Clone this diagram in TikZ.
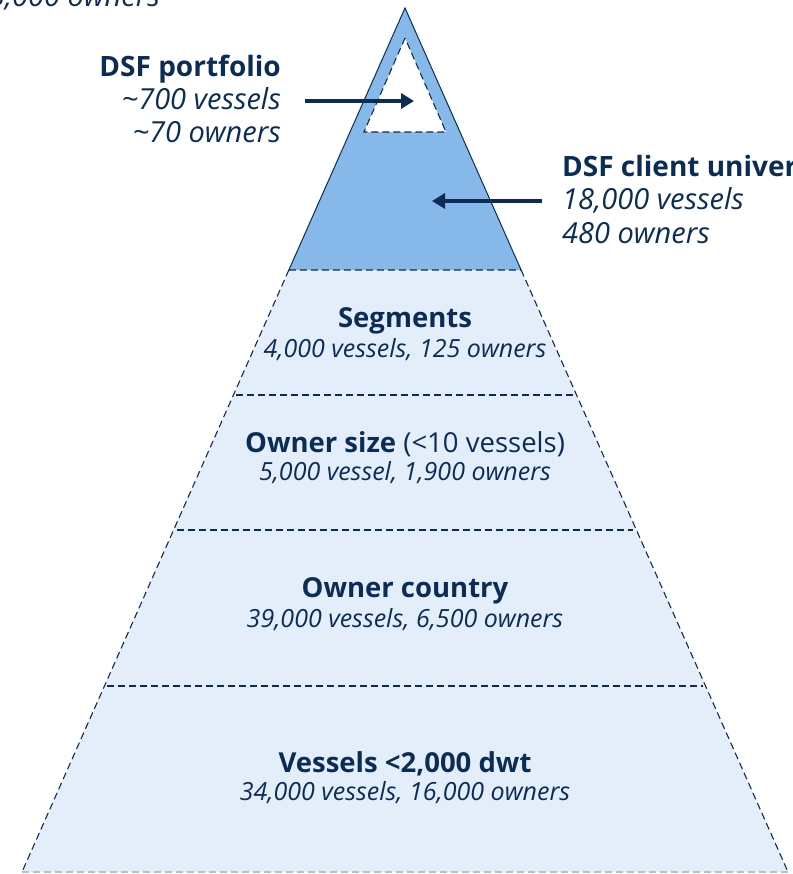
\documentclass[tikz,border=0pt]{standalone}
\usepackage{fontspec}
\setmainfont{Open Sans}
\usetikzlibrary{calc,arrows.meta}
\definecolor{navy}{HTML}{0B2D55}
\definecolor{darkfill}{HTML}{86B8EA}
\definecolor{lightfill}{HTML}{E4EEFA}
\tikzset{
  lvl/.style={navy,line width=1.1pt,dash pattern=on 7pt off 4pt},
  arr/.style={navy,line width=4pt,-{Triangle[length=13pt,width=15pt]}},
  big/.style={text=navy,font=\fontsize{27.5}{31}\selectfont,inner sep=0pt},
  side/.style={text=navy,font=\fontsize{28}{32}\selectfont,inner sep=0pt},
  sideit/.style={side,font=\fontsize{29}{33}\selectfont\itshape},
  sub/.style={text=navy,font=\fontsize{25}{29}\selectfont\itshape,inner sep=0pt},
}
\begin{document}
\begin{tikzpicture}[x=1pt,y=-1pt]
  \useasboundingbox (0,0) rectangle (792,874);
  \coordinate (apex) at (405,8);
  \coordinate (bl) at (22,872);
  \coordinate (br) at (788,872);
  % the whole pyramid, then the client universe on top of it
  \fill[lightfill] (apex)--(bl)--(br)--cycle;
  \coordinate (cl) at ($(apex)!.3032!(bl)$);
  \coordinate (cr) at ($(apex)!.3032!(br)$);
  \fill[darkfill] (apex)--(cl)--(cr)--cycle;
  \draw[navy,line width=1pt] (cl)--(apex)--(cr);
  \draw[lvl] (cl)--(bl) (cr)--(br) (cl)--(cr);
  \draw[lvl,navy!30] (bl)--(br);
  \foreach \t in {.4479,.6042,.7847}
    {\draw[lvl] ($(apex)!\t!(bl)+(3,0)$)--($(apex)!\t!(br)-(3,0)$);}
  % portfolio at the very top
  \fill[white] (405,38)--(364,132)--(446,132)--cycle;
  \draw[lvl] (405,38)--(364,132)--(446,132)--cycle;
  % levels
  \foreach \n/\y/\a/\b in {seg/321/{\textbf{Segments}}/{4,000 vessels, 125 owners},
      size/444/{\textbf{Owner size} (<10 vessels)}/{5,000 vessel, 1,900 owners},
      ctry/591/{\textbf{Owner country}}/{39,000 vessels, 6,500 owners},
      dwt/764/{\textbf{Vessels <2,000 dwt}}/{34,000 vessels, 16,000 owners}}
    {\node[big] (\n) at (405,\y) {\a};
     \node[sub] (\n-s) at (405,\y+29) {\b};}
  % side labels
  \node[sideit,anchor=base east] (fleet) at (160,7) {5,000 owners};
  \node[side,anchor=base east] (port) at (281,77) {\textbf{DSF portfolio}};
  \node[sideit,anchor=base east] (port-v) at (281,110) {\char`~700 vessels};
  \node[sideit,anchor=base east] (port-o) at (281,143) {\char`~70 owners};
  \node[side,anchor=base west] (univ) at (562,177) {\textbf{DSF client universe}};
  \node[sideit,anchor=base west] (univ-v) at (562,210) {18,000 vessels};
  \node[sideit,anchor=base west] (univ-o) at (562,244) {480 owners};
  \coordinate (pin) at (414,101);
  \coordinate (uin) at (432,201);
  \draw[arr] ($(port-v.east |- pin)+(24,0)$)--(pin);
  \draw[arr] ($(univ-v.west |- uin)+(-20,0)$)--(uin);
\end{tikzpicture}
\end{document}
